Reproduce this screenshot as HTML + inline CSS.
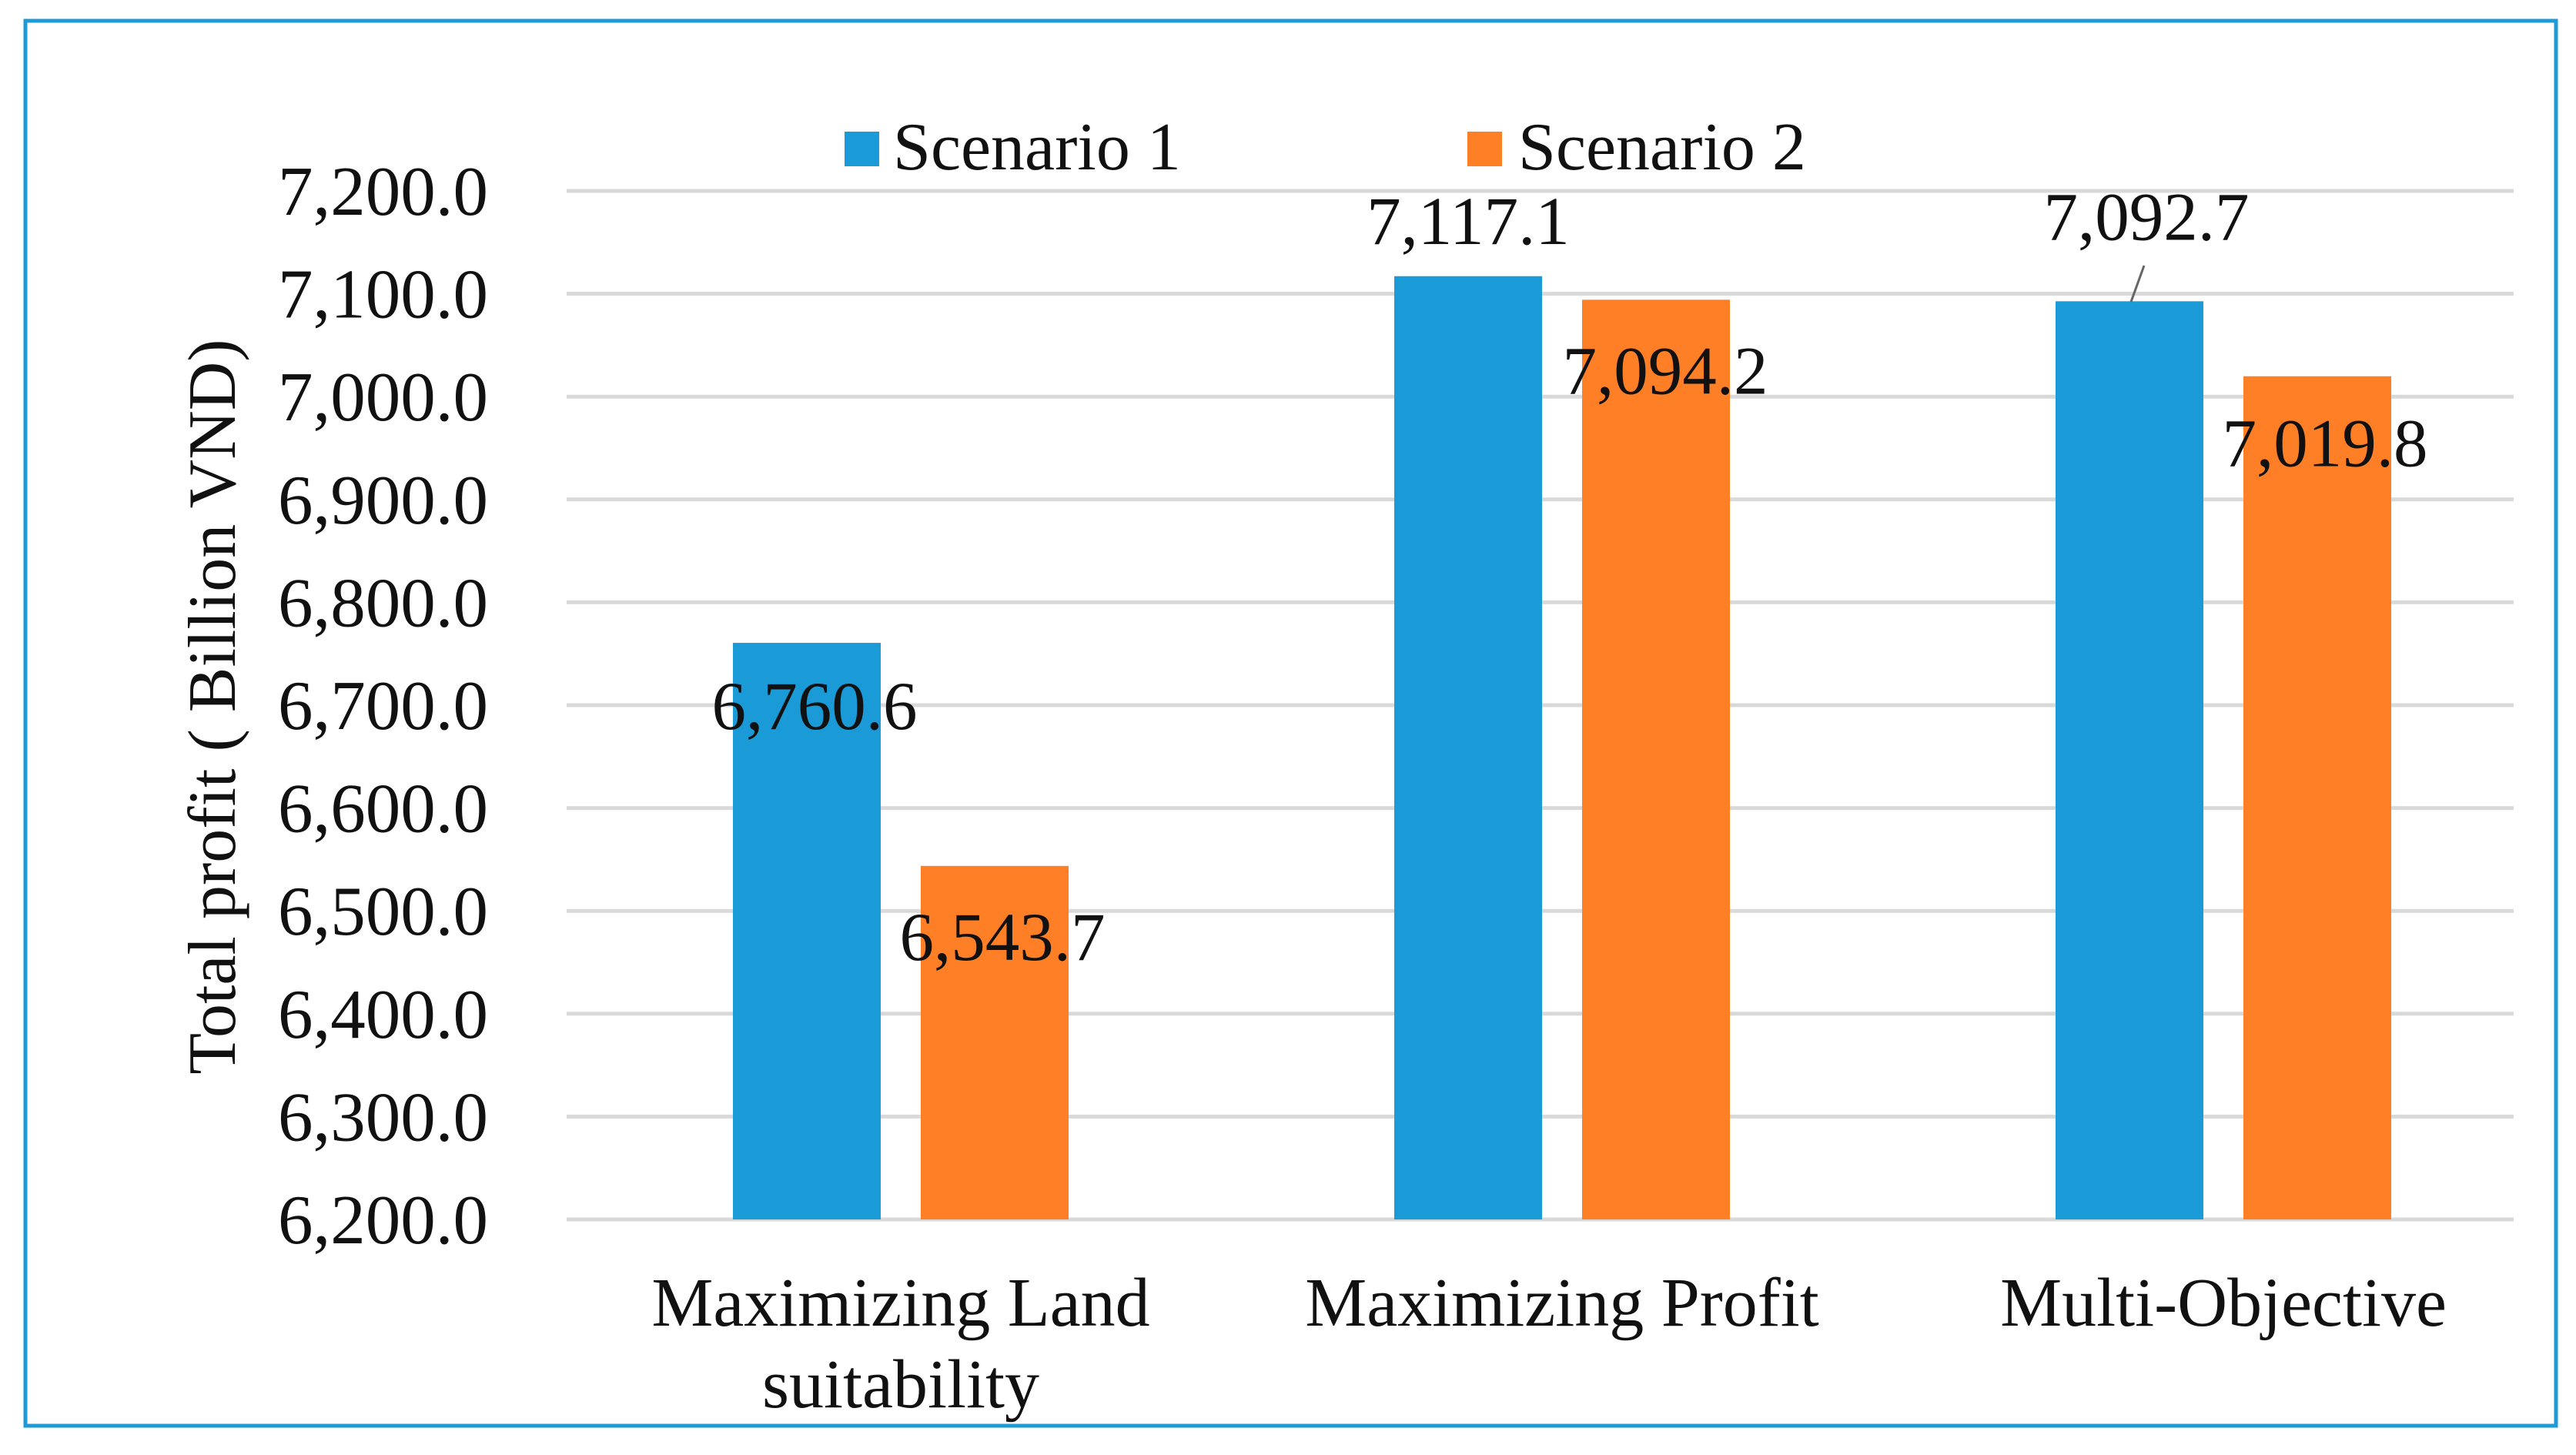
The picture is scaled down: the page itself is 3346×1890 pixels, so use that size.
<!DOCTYPE html>
<html><head><meta charset="utf-8"><style>
html,body{margin:0;padding:0;background:#fff;width:3346px;height:1890px;overflow:hidden}
svg{display:block;font-family:"Liberation Serif",serif}
</style></head><body>
<svg id="chart" width="3346" height="1890" viewBox="0 0 3346 1890">
<rect x="33" y="27" width="3287" height="1825" fill="#fff" stroke="#1e9ad6" stroke-width="5"/>
<g id="grid"></g><g id="bars"></g><g id="labels"></g>
<text transform="translate(305,918) rotate(-90)" text-anchor="middle" font-size="88" fill="#111">Total profit ( Billion VND)</text>
<g>
<rect x="1097" y="171" width="45" height="45" fill="#1a9ad6"/>
<text x="1160" y="220" font-size="88" fill="#111">Scenario 1</text>
<rect x="1906" y="171" width="45" height="45" fill="#fe7f26"/>
<text x="1972" y="220" font-size="88" fill="#111">Scenario 2</text>
</g>
<line x1="2785" y1="345" x2="2768" y2="392" stroke="#666" stroke-width="3"/>
</svg>
<script>
const categories = [["Maximizing Land","suitability"],["Maximizing Profit"],["Multi-Objective"]];
const scenario1 = [6760.6, 7117.1, 7092.7];
const scenario2 = [6543.7, 7094.2, 7019.8];
const ticks = [6200,6300,6400,6500,6600,6700,6800,6900,7000,7100,7200];
const ns="http://www.w3.org/2000/svg";
const y0=1584, y1=248, vmin=6200, vmax=7200;
const plotL=736, plotR=3265, band=859, barW=192, gap=52, lead=216;
function y(v){return y0-(v-vmin)/(vmax-vmin)*(y0-y1);}
function xBand(i){return plotL+i*band;}
function mk(tag,attrs,parent){const e=document.createElementNS(ns,tag);for(const k in attrs)e.setAttribute(k,attrs[k]);parent.appendChild(e);return e;}
const grid=document.getElementById('grid'),bars=document.getElementById('bars'),labels=document.getElementById('labels');
ticks.forEach(t=>{
  const l=mk('line',{x1:plotL,x2:plotR,y1:y(t),y2:y(t),stroke:'#d9d9d9','stroke-width':5},grid);
  
  
  const tx=mk('text',{x:634,y:y(t)+31,'text-anchor':'end','font-size':91,fill:'#111'},grid);
  tx.textContent=t.toLocaleString('en-US',{minimumFractionDigits:1,maximumFractionDigits:1});
  
  
});
const fmt=v=>v.toLocaleString('en-US',{minimumFractionDigits:1,maximumFractionDigits:1});
categories.forEach((c,i)=>{
  const bx=xBand(i)+lead;
  const b1=mk('rect',{x:bx,y:y(scenario1[i]),width:barW,height:y0-y(scenario1[i]),fill:'#1a9ad6'},bars);
  
  
  const b2=mk('rect',{x:bx+barW+gap,y:y(scenario2[i]),width:barW,height:y0-y(scenario2[i]),fill:'#fe7f26'},bars);
  
  
  const v1=mk('text',{'text-anchor':'middle','font-size':89,fill:'#111'},labels);
  if(i===0){v1.setAttribute('x',bx+barW/2+10);v1.setAttribute('y',y(scenario1[i])+112);}
  else if(i===1){v1.setAttribute('x',bx+barW/2);v1.setAttribute('y',y(scenario1[i])-42);}
  else{v1.setAttribute('x',bx+barW/2+22);v1.setAttribute('y',y(scenario1[i])-80);}
  v1.textContent=fmt(scenario1[i]);
  
  
  const v2=mk('text',{'text-anchor':'middle','font-size':89,fill:'#111'},labels);
  v2.setAttribute('x',bx+barW+gap+barW/2+(i===0?10:(i===1?12:10)));
  v2.setAttribute('y',y(scenario2[i])+(i===0?122:(i===1?122:117)));
  v2.textContent=fmt(scenario2[i]);
  
  
  const cx=bx+barW+gap/2;
  c.forEach((line,k)=>{
    const t=mk('text',{x:cx,y:1722+k*106,'text-anchor':'middle','font-size':90,fill:'#111'},labels);
    t.textContent=line;
    
    
  });
});
</script>
</body></html>
